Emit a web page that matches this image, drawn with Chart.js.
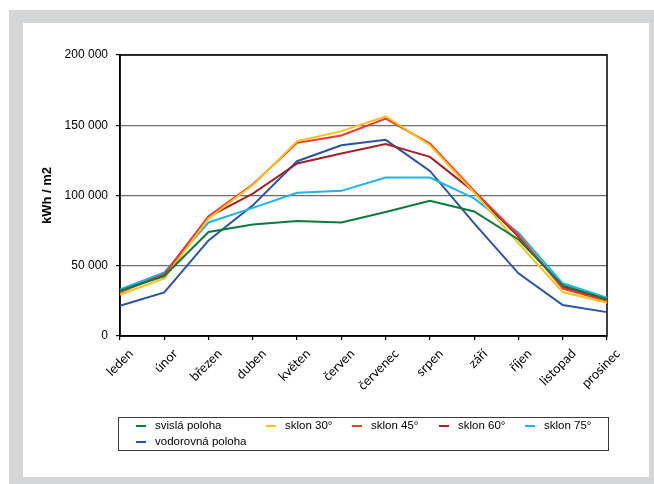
<!DOCTYPE html>
<html lang="cs">
<head>
<meta charset="utf-8">
<title>Sluneční energie podle sklonu plochy</title>
<script src="https://cdn.jsdelivr.net/npm/chart.js@4.4.1/dist/chart.umd.min.js"></script>
<style>
  html, body { margin: 0; padding: 0; background: #fff; }
  #wrap { position: relative; width: 654px; height: 484px; overflow: hidden; }
  #frame { position: absolute; left: 9px; top: 10px; width: 645px; height: 474px; background: #d4d5d6; }
  #inner { position: absolute; left: 23px; top: 23px; width: 626px; height: 454px; background: #fff; }
  #chart { position: absolute; left: 0; top: 0; }
</style>
</head>
<body>
<div id="wrap">
  <div id="frame"></div>
  <div id="inner"></div>
  <canvas id="chart" width="654" height="484"></canvas>
</div>
<script>
// Months
const months = ['leden', 'únor', 'březen', 'duben', 'květen', 'červen',
                'červenec', 'srpen', 'září', 'říjen', 'listopad', 'prosinec'];

// Monthly irradiation (kWh / m2) for each orientation of the surface
const svisla    = [32200, 42700, 74000, 79400, 81800, 80800, 88200, 96200, 88600, 68700, 36000, 26200];
const vodorovna = [21500, 31000, 68000, 93000, 124400, 135800, 139600, 117500, 80100, 44600, 22000, 17000];
const sklon30   = [29500, 41000, 83700, 107400, 138600, 145800, 156400, 135800, 102000, 65900, 31300, 23700];
const sklon45   = [31000, 44000, 85300, 108000, 137500, 142700, 154800, 137000, 103300, 71800, 33800, 24900];
const sklon60   = [31700, 43800, 84800, 101400, 122800, 129900, 136700, 127500, 102600, 70600, 35000, 25600];
const sklon75   = [33200, 45300, 80800, 91200, 102000, 103300, 112800, 112800, 97900, 73500, 37500, 27300];

// Value axis
const yTicks = [0, 50000, 100000, 150000, 200000];
const yTitle = 'kWh / m2';

const series = [
  { label: 'svislá poloha',    data: svisla,    color: '#0b7a3e' },
  { label: 'sklon 30°',        data: sklon30,   color: '#fcc11b' },
  { label: 'sklon 45°',        data: sklon45,   color: '#ee3a2f' },
  { label: 'sklon 60°',        data: sklon60,   color: '#a32129' },
  { label: 'sklon 75°',        data: sklon75,   color: '#1cb4ea' },
  { label: 'vodorovná poloha', data: vodorovna, color: '#2a52a6' }
];

const fmt = v => String(v).replace(/\B(?=(\d{3})+(?!\d))/g, ' ');

// Black frame around the plotting area
const plotBorder = {
  id: 'plotBorder',
  beforeDatasetsDraw(chart) {
    const { ctx, chartArea: a } = chart;
    ctx.save();
    ctx.strokeStyle = '#000';
    ctx.lineWidth = 1.5;
    ctx.strokeRect(a.left, a.top, a.right - a.left, a.bottom - a.top);
    ctx.restore();
  }
};

// Boxed legend laid out in columns, two rows
const boxLegend = {
  id: 'boxLegend',
  afterDraw(chart) {
    const { ctx } = chart;
    const box = { x: 118.5, y: 417.5, w: 490, h: 33 };
    const slots = [
      { x: 136, y: 426 }, { x: 266, y: 426 }, { x: 352, y: 426 },
      { x: 439, y: 426 }, { x: 525, y: 426 }, { x: 136, y: 442 }
    ];
    ctx.save();
    ctx.fillStyle = '#fff';
    ctx.fillRect(box.x, box.y, box.w, box.h);
    ctx.strokeStyle = '#3a3a3a';
    ctx.lineWidth = 1;
    ctx.strokeRect(box.x, box.y, box.w, box.h);
    ctx.font = '11.5px "Liberation Sans", Arial, sans-serif';
    ctx.textBaseline = 'middle';
    ctx.textAlign = 'left';
    chart.data.datasets.forEach((ds, i) => {
      const s = slots[i];
      ctx.strokeStyle = ds.borderColor;
      ctx.lineWidth = 2;
      ctx.beginPath();
      ctx.moveTo(s.x, s.y);
      ctx.lineTo(s.x + 10, s.y);
      ctx.stroke();
      ctx.fillStyle = '#000';
      ctx.fillText(ds.label, s.x + 19, s.y);
    });
    ctx.restore();
  }
};

new Chart(document.getElementById('chart'), {
  type: 'line',
  data: {
    labels: months,
    datasets: series.map(s => ({
      label: s.label,
      data: s.data,
      borderColor: s.color,
      backgroundColor: s.color,
      borderWidth: 2,
      pointRadius: 0,
      pointHoverRadius: 0,
      tension: 0,
      fill: false
    }))
  },
  options: {
    responsive: false,
    animation: false,
    events: [],
    layout: { padding: { left: 0, top: 55, right: 47, bottom: 0 } },
    plugins: { legend: { display: false }, tooltip: { enabled: false } },
    scales: {
      x: {
        offset: false,
        afterFit(scale) { scale.height = 148; },
        border: { display: true, color: '#000', width: 1.5 },
        grid: { drawOnChartArea: false, drawTicks: true, tickLength: 4, tickColor: '#000', lineWidth: 1.2 },
        ticks: {
          minRotation: 45, maxRotation: 45, autoSkip: false,
          labelOffset: 11, padding: 6,
          color: '#000',
          font: { family: 'Lato, "Open Sans", sans-serif', size: 13 }
        }
      },
      y: {
        min: 0, max: 200000,
        afterFit(scale) { scale.width = 120; },
        afterBuildTicks(scale) { scale.ticks = yTicks.map(v => ({ value: v })); },
        border: { display: true, color: '#000', width: 1.5 },
        grid: { color: '#6e6e6e', lineWidth: 1.2, tickLength: 4, tickColor: '#000' },
        ticks: {
          padding: 8, color: '#000',
          font: { family: '"Liberation Sans", Arial, sans-serif', size: 12 },
          callback: v => fmt(v)
        },
        title: {
          display: true, text: yTitle, color: '#000',
          padding: { top: 40, bottom: 0 },
          font: { family: '"Liberation Sans", Arial, sans-serif', size: 13, weight: 'bold' }
        }
      }
    }
  },
  plugins: [plotBorder, boxLegend]
});
</script>
</body>
</html>
